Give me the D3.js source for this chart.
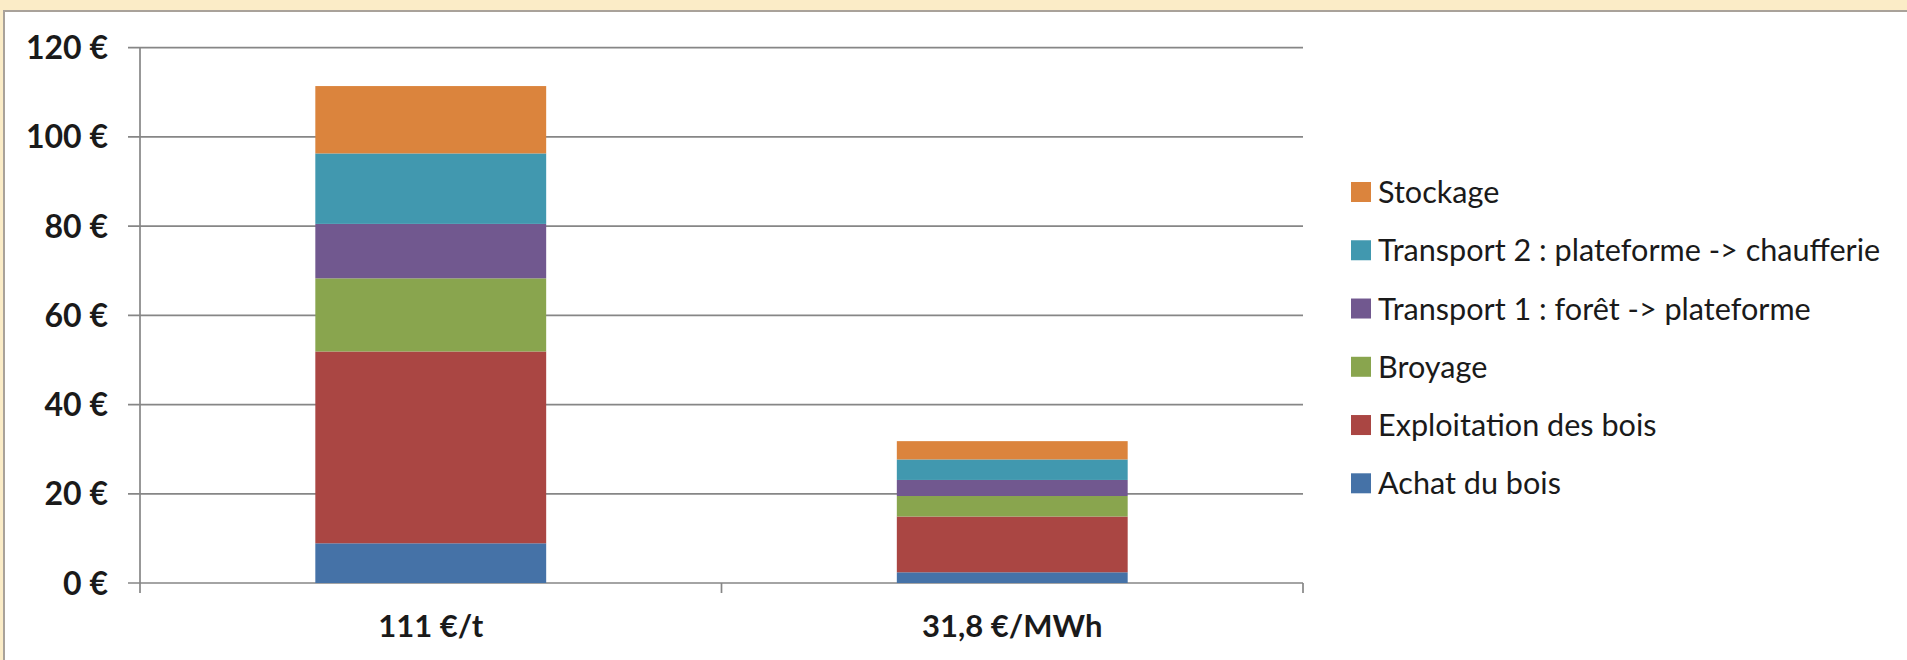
<!DOCTYPE html>
<html>
<head>
<meta charset="utf-8">
<script src="https://cdn.jsdelivr.net/npm/d3@7"></script>
<style>
  html, body { margin: 0; padding: 0; background: #ffffff; }
  svg { display: block; }
</style>
</head>
<body>
<svg id="chart" width="1907" height="660"></svg>
<script>
// ---- data ----
const categories = ["111 €/t", "31,8 €/MWh"];
const seriesNames = ["Achat du bois", "Exploitation des bois", "Broyage",
  "Transport 1 : forêt -> plateforme", "Transport 2 : plateforme -> chaufferie", "Stockage"];
const achat        = [8.9, 2.4];
const exploitation = [43.0, 12.5];
const broyage      = [16.4, 4.6];
const transport1   = [12.2, 3.6];
const transport2   = [15.8, 4.6];
const stockage     = [15.1, 4.1];
const yTicks = [0, 20, 40, 60, 80, 100, 120];
const colors = ["#4572a7", "#aa4643", "#89a54e", "#71588f", "#4198af", "#db843d"];

const seriesValues = [achat, exploitation, broyage, transport1, transport2, stockage];
const rows = categories.map((c, i) => {
  const r = { cat: c };
  seriesNames.forEach((s, j) => r[s] = seriesValues[j][i]);
  return r;
});

const svg = d3.select("#chart");
const W = 1907, H = 660;

// background: beige band + white panel
svg.append("rect").attr("x", 0).attr("y", 0).attr("width", W).attr("height", H).attr("fill", "#fbecc7");
svg.append("rect").attr("x", 4).attr("y", 11).attr("width", W - 4).attr("height", H - 11).attr("fill", "#ffffff");
svg.append("line").attr("x1", 3).attr("x2", W).attr("y1", 11).attr("y2", 11).attr("stroke", "#a9a29a").attr("stroke-width", 2);
svg.append("line").attr("x1", 4).attr("x2", 4).attr("y1", 11).attr("y2", H).attr("stroke", "#a9a29a").attr("stroke-width", 2);

const plot = { left: 140, right: 1303, top: 47.7, bottom: 583 };

const x = d3.scaleBand().domain(categories).range([plot.left, plot.right])
  .paddingInner(0.603).paddingOuter(0.3015);
const y = d3.scaleLinear().domain([0, 120]).range([plot.bottom, plot.top]);

const gridColor = "#868686";

// gridlines + y ticks
svg.append("g")
  .selectAll("line").data(yTicks).join("line")
  .attr("x1", plot.left - 12).attr("x2", plot.right)
  .attr("y1", d => y(d)).attr("y2", d => y(d))
  .attr("stroke", gridColor).attr("stroke-width", 1.7);

// y axis line
svg.append("line").attr("x1", plot.left).attr("x2", plot.left)
  .attr("y1", y(120)).attr("y2", plot.bottom + 10)
  .attr("stroke", gridColor).attr("stroke-width", 1.7);

// x category separator ticks
const sepTicks = [plot.left + x.step(), plot.right];
svg.append("g").selectAll("line").data(sepTicks).join("line")
  .attr("x1", d => d).attr("x2", d => d)
  .attr("y1", plot.bottom).attr("y2", plot.bottom + 10)
  .attr("stroke", gridColor).attr("stroke-width", 1.7);

// y tick labels
svg.append("g").selectAll("text").data(yTicks).join("text")
  .attr("x", 108).attr("y", d => y(d))
  .attr("dy", "0.36em")
  .attr("text-anchor", "end")
  .attr("font-family", "Lato, 'Open Sans', sans-serif")
  .attr("font-weight", "bold")
  .attr("font-size", 32)
  .attr("fill", "#1a1a1a")
  .text(d => d + " €");

// stacked bars
const stack = d3.stack().keys(seriesNames)(rows);
svg.append("g").selectAll("g").data(stack).join("g")
  .attr("fill", (d, i) => colors[i])
  .selectAll("rect").data(d => d).join("rect")
  .attr("x", d => x(d.data.cat))
  .attr("width", x.bandwidth())
  .attr("y", d => y(d[1]))
  .attr("height", d => y(d[0]) - y(d[1]));

// x labels
svg.append("g").selectAll("text").data(categories).join("text")
  .attr("x", d => x(d) + x.bandwidth() / 2)
  .attr("y", 626)
  .attr("dy", "0.36em")
  .attr("text-anchor", "middle")
  .attr("font-family", "Lato, 'Open Sans', sans-serif")
  .attr("font-weight", "bold")
  .attr("font-size", 31)
  .attr("fill", "#1a1a1a")
  .text(d => d);

// legend (reverse order, top = Stockage)
const legendItems = seriesNames.map((s, i) => ({ name: s, color: colors[i] })).reverse();
const legY = d3.scalePoint().domain(legendItems.map(d => d.name)).range([192, 483.3]);
const leg = svg.append("g").selectAll("g").data(legendItems).join("g")
  .attr("transform", d => `translate(1351, ${legY(d.name)})`);
leg.append("rect").attr("x", 0).attr("y", -10).attr("width", 20).attr("height", 20)
  .attr("fill", d => d.color);
leg.append("text").attr("x", 27).attr("y", 0).attr("dy", "0.36em")
  .attr("font-family", "Lato, 'Open Sans', sans-serif")
  .attr("font-size", 30.6)
  .attr("fill", "#1a1a1a")
  .text(d => d.name);
</script>
</body>
</html>
